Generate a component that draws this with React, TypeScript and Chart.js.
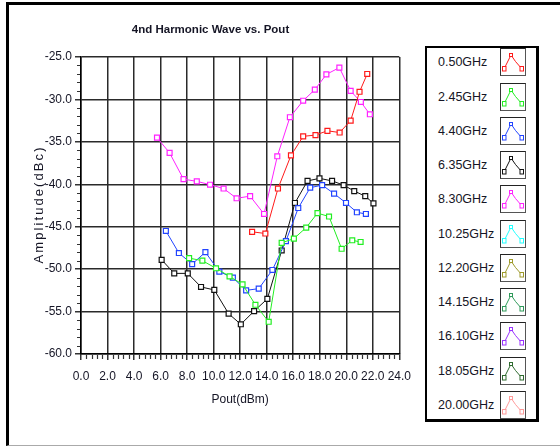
import React, { useEffect, useRef } from "react";
import { Chart, registerables } from "chart.js";

Chart.register(...registerables);

const FONT = "'Liberation Sans', Arial, sans-serif";
const TEXT = "#151525";

const chartTitle = "4nd Harmonic Wave vs. Pout";
const xTitle = "Pout(dBm)";
const yTitle = "Amplitude(dBc)";

const xMin = 0;
const xMax = 24;
const xStep = 2;
const yMin = -60;
const yMax = -25;
const yStep = 5;

const legendLabels = [
  "0.50GHz", "2.45GHz", "4.40GHz", "6.35GHz", "8.30GHz", "10.25GHz",
  "12.20GHz", "14.15GHz", "16.10GHz", "18.05GHz", "20.00GHz",
];
const legendColors = [
  "#ff1a1a", "#22ee22", "#2244ff", "#111111", "#ff22ff", "#22ffff",
  "#9e9a2a", "#2f9a5a", "#9a33ff", "#2f6a2f", "#ff9a9a",
];

// 0.50GHz
const xRed = [12.9, 13.9, 14.85, 15.83, 16.75, 17.68, 18.58, 19.5, 20.33, 21.0, 21.58];
const yRed = [-45.6, -45.8, -40.5, -36.6, -34.35, -34.2, -33.7, -33.9, -32.5, -29.1, -27.0];
// 2.45GHz
const xGreen = [8.15, 9.15, 10.18, 11.2, 12.18, 13.15, 14.15, 15.13, 16.05, 16.98, 17.83, 18.7, 19.65, 20.45, 21.08];
const yGreen = [-48.7, -49.0, -49.9, -50.85, -51.8, -54.2, -56.2, -46.9, -46.4, -45.1, -43.4, -43.8, -47.6, -46.6, -46.8];
// 4.40GHz
const xBlue = [6.4, 7.38, 8.38, 9.38, 10.43, 11.45, 12.45, 13.4, 14.43, 15.45, 16.38, 17.28, 18.18, 19.08, 19.98, 20.8, 21.48];
const yBlue = [-45.5, -48.1, -49.4, -48.0, -50.3, -51.0, -52.5, -52.3, -50.1, -46.7, -42.8, -40.4, -40.1, -41.1, -42.2, -43.3, -43.5];
// 6.35GHz
const xBlack = [6.08, 7.03, 8.05, 9.05, 10.05, 11.13, 12.05, 13.05, 14.05, 15.13, 16.13, 17.08, 17.98, 18.93, 19.8, 20.6, 21.43, 22.05];
const yBlack = [-48.9, -50.5, -50.5, -52.1, -52.45, -55.25, -56.5, -54.95, -53.5, -47.8, -42.2, -39.6, -39.3, -39.6, -40.1, -40.8, -41.4, -42.25];
// 8.30GHz
const xMagenta = [5.73, 6.68, 7.73, 8.73, 9.73, 10.75, 11.73, 12.75, 13.8, 14.8, 15.75, 16.75, 17.63, 18.5, 19.48, 20.33, 21.1, 21.78];
const yMagenta = [-34.5, -36.3, -39.4, -39.65, -40.05, -40.5, -41.65, -41.4, -43.5, -36.7, -32.1, -30.15, -28.85, -27.05, -26.25, -29.0, -30.3, -31.75];

const seriesX = [xRed, xGreen, xBlue, xBlack, xMagenta];
const seriesY = [yRed, yGreen, yBlue, yBlack, yMagenta];

const minorTicks = {
  id: "minorTicks",
  afterDraw(chart: any) {
    const { ctx, chartArea, scales } = chart;
    const xs = scales.x;
    const ys = scales.y;
    ctx.save();
    ctx.strokeStyle = "#333";
    ctx.lineWidth = 1.2;
    ctx.beginPath();
    for (let v = yMin; v <= yMax; v += 1) {
      if (v % yStep === 0) continue;
      const py = Math.round(ys.getPixelForValue(v)) + 0.5;
      ctx.moveTo(chartArea.left - 4, py);
      ctx.lineTo(chartArea.left - 1, py);
    }
    for (let i = 0; i <= (xMax - xMin) * 5 / xStep; i++) {
      if (i % 5 === 0) continue;
      const v = xMin + (i * xStep) / 5;
      const px = Math.round(xs.getPixelForValue(v)) + 0.5;
      ctx.moveTo(px, chartArea.bottom + 1);
      ctx.lineTo(px, chartArea.bottom + 5);
    }
    ctx.stroke();
    ctx.restore();
  },
};

const yTitlePlugin = {
  id: "yTitleSpaced",
  afterDraw(chart: any) {
    const { ctx, chartArea } = chart;
    ctx.save();
    ctx.font = `13px ${FONT}`;
    ctx.fillStyle = TEXT;
    ctx.textBaseline = "middle";
    ctx.textAlign = "left";
    const targetLen = 116;
    const chars = Array.from(yTitle);
    const widths = chars.map((c) => ctx.measureText(c).width);
    const base = widths.reduce((a, b) => a + b, 0);
    const gap = (targetLen - base) / (chars.length - 1);
    const cy = (chartArea.top + chartArea.bottom) / 2;
    ctx.translate(39, cy);
    ctx.rotate(-Math.PI / 2);
    let pos = -targetLen / 2;
    chars.forEach((c, i) => {
      ctx.fillText(c, pos, 0);
      pos += widths[i] + gap;
    });
    ctx.restore();
  },
};

function LegendIcon({ color }: { color: string }) {
  return (
    <div
      style={{
        position: "absolute",
        left: 73,
        top: 0,
        width: 26,
        height: 28,
        boxSizing: "border-box",
        borderTop: "1px solid #222",
        borderLeft: "1px solid #333",
        borderRight: "1px solid #555",
        borderBottom: "1px solid #555",
        background: "#fff",
      }}
    >
      <svg width="24" height="26" style={{ display: "block" }}>
        <polyline
          points="3,20 10,6 14.5,12.5 21,20"
          fill="none"
          stroke={color}
          strokeWidth="1"
        />
        <rect x="1.5" y="17.5" width="3.5" height="4.5" fill="#fff" stroke={color} strokeWidth="1" />
        <rect x="8.5" y="4.5" width="3" height="3" fill="#fff" stroke={color} strokeWidth="1" />
        <rect x="19" y="17.5" width="3.5" height="4.5" fill="#fff" stroke={color} strokeWidth="1" />
      </svg>
    </div>
  );
}

export default function App() {
  const canvasRef = useRef<HTMLCanvasElement | null>(null);

  useEffect(() => {
    if (!canvasRef.current) return;
    const datasets = seriesX.map((xs, i) => ({
      label: legendLabels[i],
      data: xs.map((x, j) => ({ x, y: seriesY[i][j] })),
      showLine: true,
      borderColor: legendColors[i],
      borderWidth: 1,
      pointStyle: "rect" as const,
      pointRadius: 3.5,
      pointBorderWidth: 1.2,
      pointBorderColor: legendColors[i],
      pointBackgroundColor: "#ffffff",
      tension: 0,
    }));
    const tickFont = { family: FONT, size: 12 };
    const chart = new Chart(canvasRef.current, {
      type: "scatter",
      data: { datasets },
      options: {
        animation: false,
        responsive: false,
        devicePixelRatio: 1,
        layout: { padding: { left: 20, top: 18, right: 19, bottom: 33 } },
        plugins: {
          legend: { display: false },
          tooltip: { enabled: false },
          title: {
            display: true,
            text: chartTitle,
            color: TEXT,
            font: { family: FONT, size: 11.5, weight: "bold" },
            padding: { top: 5.1, bottom: 20.1 },
          },
        },
        scales: {
          x: {
            type: "linear",
            min: xMin,
            max: xMax,
            ticks: {
              stepSize: xStep,
              color: TEXT,
              font: tickFont,
              padding: 9,
              maxRotation: 0,
              autoSkip: false,
              callback: (v: any) => Number(v).toFixed(1),
            },
            grid: { color: "#2a2a2a", lineWidth: 1.5, tickLength: 6, tickColor: "#333" },
            border: { color: "#000", width: 1.5 },
            title: {
              display: true,
              text: xTitle,
              color: TEXT,
              font: { family: FONT, size: 12 },
              padding: { top: 0, bottom: 6.8 },
            },
            afterFit: (s: any) => {
              s.height = 60;
            },
          },
          y: {
            type: "linear",
            min: yMin,
            max: yMax,
            ticks: {
              stepSize: yStep,
              color: TEXT,
              font: tickFont,
              padding: 3,
              callback: (v: any) => Number(v).toFixed(1),
            },
            grid: { color: "#2a2a2a", lineWidth: 1.5, tickLength: 6, tickColor: "#333" },
            border: { color: "#000", width: 1.5 },
            afterFit: (s: any) => {
              s.width = 61;
            },
          },
        },
      },
      plugins: [minorTicks, yTitlePlugin],
    });
    return () => chart.destroy();
  }, []);

  return (
    <div
      style={{
        position: "fixed",
        left: 0,
        top: 0,
        width: 560,
        height: 447,
        background: "#fff",
        overflow: "hidden",
      }}
    >
      <div
        style={{
          position: "absolute",
          left: 6,
          top: 2,
          width: 600,
          height: 444,
          boxSizing: "border-box",
          borderTop: "3px solid #000",
          borderLeft: "3px solid #000",
          borderBottom: "1px solid #aaa",
        }}
      />
      <canvas
        ref={canvasRef}
        width={420}
        height={447}
        style={{ position: "absolute", left: 0, top: 0, width: 420, height: 447 }}
      />
      <div
        style={{
          position: "absolute",
          left: 425,
          top: 46,
          width: 114,
          height: 376,
          boxSizing: "border-box",
          border: "2px solid #000",
          borderRightWidth: 3,
          borderBottomWidth: 3,
          background: "#fff",
        }}
      >
        {legendLabels.map((lab, i) => (
          <div
            key={lab}
            style={{ position: "absolute", left: 0, top: 0.3 + i * 34.27, width: 110, height: 28 }}
          >
            <div
              style={{
                position: "absolute",
                left: 11,
                top: 0,
                height: 28,
                lineHeight: "28px",
                fontFamily: FONT,
                fontSize: 12.5,
                color: TEXT,
                whiteSpace: "nowrap",
              }}
            >
              {lab}
            </div>
            <LegendIcon color={legendColors[i]} />
          </div>
        ))}
      </div>
    </div>
  );
}
